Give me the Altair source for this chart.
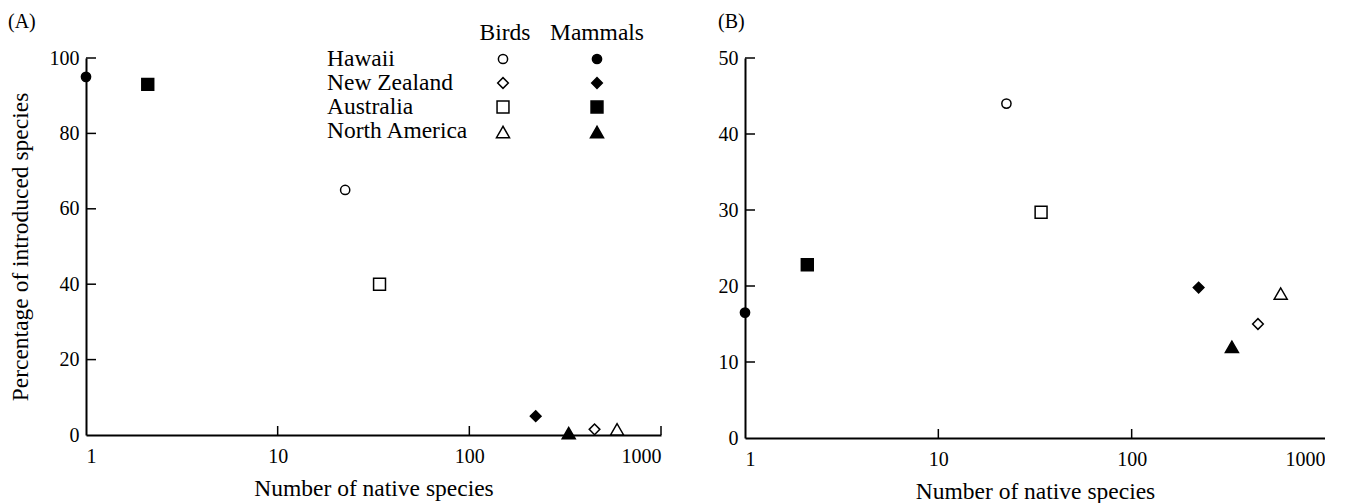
import altair as alt
import pandas as pd

# ---------------- data ----------------
regions = ["Hawaii", "New Zealand", "Australia", "North America"]
taxa = ["Birds", "Mammals"]

# number of native species (x), same in both panels
native_birds = [22.5, 450, 34, 590]
native_mammals = [1, 222, 2.1, 330]

# panel (A): percentage of introduced species
pct_birds_A = [65, 1.5, 40, 1.5]
pct_mammals_A = [95, 5, 93, 0.5]

# panel (B)
pct_birds_B = [44, 15, 29.7, 19]
pct_mammals_B = [16.5, 19.8, 22.8, 12]

x_tick_values = [1, 10, 100, 1000]
y_tick_values_A = [0, 20, 40, 60, 80, 100]
y_tick_values_B = [0, 10, 20, 30, 40, 50]
inner_x_ticks_A = [10, 100, 1000]
inner_x_ticks_B = [10, 100]

# ---------------- style ----------------
FONT = "Liberation Serif"
TICK_FS = 20
TITLE_FS = 23.5
shape_range = ["circle", "diamond", "square", "triangle-up"]
size_range = [85, 170, 95, 270]


def panel_frame(birds_y, mammals_y):
    rows = []
    for i, r in enumerate(regions):
        rows.append({"region": r, "taxon": "Birds", "native": native_birds[i], "pct": birds_y[i]})
        rows.append({"region": r, "taxon": "Mammals", "native": native_mammals[i], "pct": mammals_y[i]})
    return pd.DataFrame(rows)


shape_enc = alt.Shape("region:N", scale=alt.Scale(domain=regions, range=shape_range), legend=None)
fill_enc = alt.Fill("taxon:N", scale=alt.Scale(domain=taxa, range=["white", "black"]), legend=None)
size_enc = alt.Size("region:O", scale=alt.Scale(domain=regions, range=size_range), legend=None)


def make_panel(df, ymax, yticks, inner_xticks, w, h, label, ytitle, legend, title_offset):
    x_axis = alt.Axis(values=x_tick_values, format="d", title="Number of native species",
                      grid=False, ticks=False, tickSize=0, domainColor="black", domainWidth=2,
                      labelFont=FONT, labelFontSize=TICK_FS, labelColor="black", labelPadding=11,
                      titleFont=FONT, titleFontSize=TITLE_FS, titleColor="black",
                      titleFontWeight="normal", titlePadding=10)
    y_axis_kw = dict(values=yticks, grid=False, ticks=False, tickSize=0, domainColor="black",
                     domainWidth=2, labelFont=FONT, labelFontSize=TICK_FS, labelColor="black",
                     labelPadding=7)
    if ytitle:
        y_axis = alt.Axis(title=ytitle, titleFont=FONT, titleFontSize=TITLE_FS, titleColor="black",
                          titleFontWeight="normal", titlePadding=17, **y_axis_kw)
    else:
        y_axis = alt.Axis(title=None, **y_axis_kw)

    xs = alt.Scale(type="log", domain=[1, 1000])
    ys = alt.Scale(domain=[0, ymax], nice=False)

    points = alt.Chart(df).mark_point(opacity=1, stroke="black", strokeWidth=1.5).encode(
        x=alt.X("native:Q", scale=xs, axis=x_axis),
        y=alt.Y("pct:Q", scale=ys, axis=y_axis),
        shape=shape_enc, fill=fill_enc, size=size_enc,
    )

    yt = alt.Chart(pd.DataFrame({"pct": yticks[1:]})).mark_rule(color="black", strokeWidth=1.5).encode(
        y=alt.Y("pct:Q", scale=ys, axis=y_axis), x=alt.value(0), x2=alt.value(10))
    xt = alt.Chart(pd.DataFrame({"native": inner_xticks})).mark_rule(color="black", strokeWidth=1.5).encode(
        x=alt.X("native:Q", scale=xs, axis=x_axis), y=alt.value(h), y2=alt.value(h - 9))

    layers = [yt, xt, points]

    if legend:
        # legend layout (plot-area pixels)
        lab_x, row0, gap, head_y = 241, 1, 24, -25
        col_b, col_m = 417, 511
        lab_df = pd.DataFrame({"label": regions,
                               "lx": [lab_x] * len(regions),
                               "ly": [row0 + gap * i for i in range(len(regions))]})
        head_df = pd.DataFrame({"label": taxa, "lx": [col_b + 2, col_m], "ly": [head_y, head_y]})
        sym_rows = []
        for i, r in enumerate(regions):
            for t, cx in zip(taxa, [col_b, col_m]):
                sym_rows.append({"region": r, "taxon": t, "lx": cx,
                                 "ly": row0 + gap * i + (1 if r == "North America" else 0)})
        sym_df = pd.DataFrame(sym_rows)

        txt_kw = dict(font=FONT, fontSize=TITLE_FS, color="black", baseline="middle")
        lab = alt.Chart(lab_df).mark_text(align="left", **txt_kw).encode(
            x=alt.X("lx:Q", scale=None), y=alt.Y("ly:Q", scale=None), text="label:N")
        head = alt.Chart(head_df).mark_text(align="center", **txt_kw).encode(
            x=alt.X("lx:Q", scale=None), y=alt.Y("ly:Q", scale=None), text="label:N")
        sym = alt.Chart(sym_df).mark_point(opacity=1, stroke="black", strokeWidth=1.5).encode(
            x=alt.X("lx:Q", scale=None), y=alt.Y("ly:Q", scale=None),
            shape=shape_enc, fill=fill_enc, size=size_enc)
        layers += [lab, head, sym]

    return alt.layer(*layers).properties(
        width=w, height=h,
        title=alt.TitleParams(label, anchor="start", frame="bounds", font=FONT, fontSize=20,
                              fontWeight="normal", color="black", offset=title_offset),
    )


dfA = panel_frame(pct_birds_A, pct_mammals_A)
dfB = panel_frame(pct_birds_B, pct_mammals_B)

A = make_panel(dfA, 100, y_tick_values_A, inner_x_ticks_A, 575, 377, "(A)",
               "Percentage of introduced species", True, -11)
B = make_panel(dfB, 50, y_tick_values_B, inner_x_ticks_B, 580, 380, "(B)", None, False, 16)

chart = alt.hconcat(A, B, spacing=56).properties(
    padding={"left": 0, "top": 4, "right": 0, "bottom": 0}
).configure_view(stroke=None)

chart.save("out.html", embed_options={"renderer": "svg", "actions": False})
